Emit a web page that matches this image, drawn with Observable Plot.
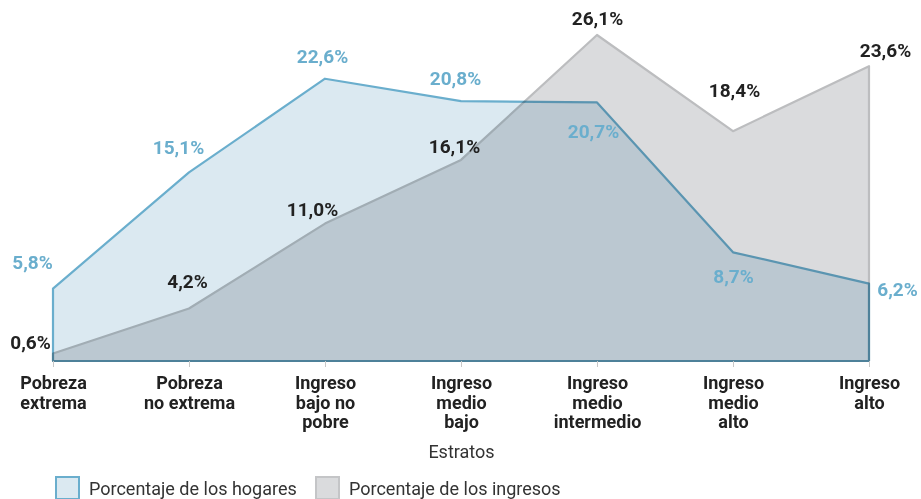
<!DOCTYPE html>
<html>
<head>
<meta charset="utf-8">
<script src="https://cdn.jsdelivr.net/npm/d3@7"></script>
<script src="https://cdn.jsdelivr.net/npm/@observablehq/plot@0.6"></script>
<style>
  html, body { margin: 0; padding: 0; background: #fff; overflow: hidden; }
  body { width: 921px; height: 499px; font-family: Roboto, "Noto Sans", sans-serif; }
  #chart svg { display: block; }
  .legend { position: relative; height: 26px; }
  .item { position: absolute; top: 3px; display: flex; align-items: center; font-size: 18px; color: #333; }
  .sw { width: 25px; height: 24px; box-sizing: border-box; border: 2px solid; margin-right: 9px; }
</style>
</head>
<body>
<div id="chart"></div>
<div class="legend">
  <div class="item" style="left:55px"><span class="sw" style="background:#dbe9f1;border-color:#6aaecd"></span>Porcentaje de los hogares</div>
  <div class="item" style="left:315px"><span class="sw" style="background:#dadbdd;border-color:#c4c5c7"></span>Porcentaje de los ingresos</div>
</div>
<script>
// Data
const categories = ["Pobreza extrema", "Pobreza no extrema", "Ingreso bajo no pobre", "Ingreso medio bajo", "Ingreso medio intermedio", "Ingreso medio alto", "Ingreso alto"];
const tickLabels = ["Pobreza\nextrema", "Pobreza\nno extrema", "Ingreso\nbajo no\npobre", "Ingreso\nmedio\nbajo", "Ingreso\nmedio\nintermedio", "Ingreso\nmedio\nalto", "Ingreso\nalto"];
const hogares = [5.8, 15.1, 22.6, 20.8, 20.7, 8.7, 6.2];
const ingresos = [0.6, 4.2, 11.0, 16.1, 26.1, 18.4, 23.6];
const axisTitle = "Estratos";

// Label placement (pixel offsets from each point)
const hogaresOffsets = [[-21, -26], [-11, -25], [-3, -22], [-6, -23], [-4, 29], [0, 24], [28, 6]];
const ingresosOffsets = [[-23, -11], [-2, -27], [-13, -14], [-7, -13], [0, -17], [1, -41], [16, -16]];

const fmt = v => v.toFixed(1).replace(".", ",") + "%";
const hData = categories.map((c, i) => ({cat: c, v: hogares[i], dx: hogaresOffsets[i][0], dy: hogaresOffsets[i][1]}));
const iData = categories.map((c, i) => ({cat: c, v: ingresos[i], dx: ingresosOffsets[i][0], dy: ingresosOffsets[i][1]}));
const tickMap = new Map(categories.map((c, i) => [c, tickLabels[i]]));

const labelFont = {fontSize: 19, fontWeight: "bold"};

const marks = [
  Plot.areaY(hData, {x: "cat", y: "v", fill: "#dbe9f1", stroke: "#6aaecd", strokeWidth: 2.2}),
  Plot.areaY(iData, {x: "cat", y: "v", fill: "#dadbdd", stroke: "#bcbdbf", strokeWidth: 2.2, mixBlendMode: "multiply"}),
  Plot.axisX({
    tickFormat: d => tickMap.get(d),
    tickSize: 6, stroke: "#c8c8c8", tickPadding: 8,
    fontSize: 18, fontWeight: "bold", fill: "#222", lineHeight: 1.08,
    label: null
  }),
  Plot.text([axisTitle], {frameAnchor: "bottom", dy: 96, fontSize: 18, fill: "#333"}),
  ...hData.map(d => Plot.text([d], {x: "cat", y: "v", text: d => fmt(d.v), dx: d.dx, dy: d.dy, fill: "#6aaecd", ...labelFont})),
  ...iData.map(d => Plot.text([d], {x: "cat", y: "v", text: d => fmt(d.v), dx: d.dx, dy: d.dy, fill: "#222", ...labelFont}))
];

const chart = Plot.plot({
  width: 921,
  height: 473,
  marginTop: 35,
  marginBottom: 112,
  marginLeft: 52,
  marginRight: 51,
  style: {fontFamily: "Roboto, 'Noto Sans', sans-serif", fontSize: "17px", color: "#333", background: "#fff", overflow: "visible"},
  x: {type: "point", domain: categories, padding: 0},
  y: {domain: [0, 26.1], axis: null},
  marks
});
document.getElementById("chart").appendChild(chart);
</script>
</body>
</html>
